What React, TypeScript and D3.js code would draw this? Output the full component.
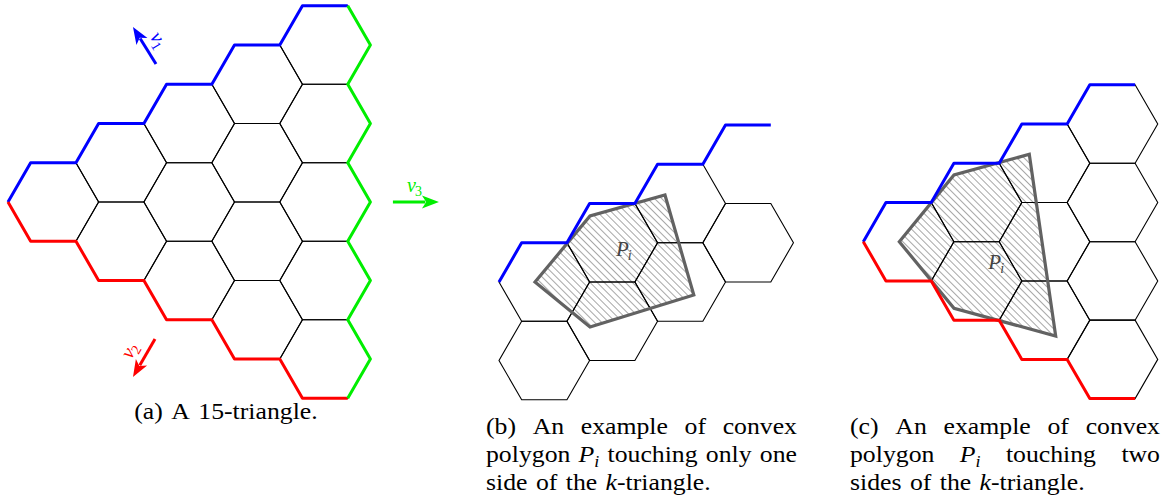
import React, { useLayoutEffect, useRef, useState } from "react";
import * as d3 from "d3";

const W = 1163;
const H = 502;
const SIDE = 45.3;
const R3 = Math.sqrt(3);

// hex cells [column, row] of each panel (row counted from the top of the column)
const cellsA: [number, number][] = [
  [0, 0], [1, 0], [1, 1], [2, 0], [2, 1], [2, 2],
  [3, 0], [3, 1], [3, 2], [3, 3], [4, 0], [4, 1], [4, 2], [4, 3], [4, 4],
];
const cellsB: [number, number][] = [[0, 0], [0, 1], [1, 0], [1, 1], [2, 0], [2, 1], [3, 1]];
const cellsC: [number, number][] = [
  [0, 0], [1, 0], [1, 1], [2, 0], [2, 1], [2, 2], [3, 0], [3, 1], [3, 2], [3, 3],
];

// boundary chains (cells whose sides make the coloured sides of the k-triangle)
const blueA: [number, number][] = [[0, 0], [1, 0], [2, 0], [3, 0], [4, 0]];
const redA: [number, number][] = [[0, 0], [1, 1], [2, 2], [3, 3], [4, 4]];
const greenA: [number, number][] = [[4, 0], [4, 1], [4, 2], [4, 3], [4, 4]];
const blueB: [number, number][] = [[0, 0], [1, 0], [2, 0], [3, 0]];
const blueC: [number, number][] = [[0, 0], [1, 0], [2, 0], [3, 0]];
const redC: [number, number][] = [[0, 0], [1, 1], [2, 2], [3, 3]];

// convex polygons P_i (lattice units, hex side = 1)
const polyB: [number, number][] = [[-0.205, 0], [1.009, -1.457], [2.664, -1.92], [3.3, 0.287], [1.009, 0.993]];
const polyC: [number, number][] = [[-0.205, 0], [1.002, -1.472], [2.664, -1.929], [3.247, 2.082], [1.002, 1.47]];
const labelB: [number, number] = [1.82, -0.71];
const labelC: [number, number] = [2.0, 0.47];

// direction arrows of panel (a)
const arrowSub = ["1", "2", "3"];
const arrowColor = ["#0000ff", "#ff0000", "#00ee00"];
const arrowFrom: [number, number][] = [[2.267, -3.046], [2.245, 3.024], [7.497, 0]];
const arrowTo: [number, number][] = [[1.759, -3.863], [1.759, 3.863], [8.513, 0]];
const arrowLabel: [number, number][] = [[2.3, -3.58], [1.7, 3.3], [7.96, -0.33]];
const arrowRot = [58, -60, 0];

type Seg = { t: string; it?: boolean; sub?: boolean };
type Word = Seg[];
const w = (t: string): Word => [{ t }];
const Pi: Word = [{ t: "P", it: true }, { t: "i", it: true, sub: true }];
const kTri: Word = [{ t: "k", it: true }, { t: "-triangle." }];

const capA: Word[][] = [[w("(a)"), w("A"), w("15-triangle.")]];
const capB: Word[][] = [
  [w("(b)"), w("An"), w("example"), w("of"), w("convex")],
  [w("polygon"), Pi, w("touching"), w("only"), w("one")],
  [w("side"), w("of"), w("the"), kTri],
];
const capC: Word[][] = [
  [w("(c)"), w("An"), w("example"), w("of"), w("convex")],
  [w("polygon"), Pi, w("touching"), w("two")],
  [w("sides"), w("of"), w("the"), kTri],
];

const SERIF = '"Liberation Serif"';
const FS = 23;
const SUBFS = 16;
const SX = 1.12;
const SPACE = 7.5;

const VERT: Record<string, number> = { R: 0, LR: 60, LL: 120, L: 180, UL: 240, UR: 300 };
function vert(c: number, j: number, k: string): [number, number] {
  const a = (VERT[k] * Math.PI) / 180;
  return [1.5 * c + Math.cos(a), R3 * (j - c / 2) + Math.sin(a)];
}
function hexPts(c: number, j: number): [number, number][] {
  return ["R", "LR", "LL", "L", "UL", "UR"].map((k) => vert(c, j, k));
}
function chain(cells: [number, number][], start: string, keys: string[]): [number, number][] {
  const pts: [number, number][] = [vert(cells[0][0], cells[0][1], start)];
  cells.forEach(([c, j]) => keys.forEach((k) => pts.push(vert(c, j, k))));
  return pts;
}

function makeScales(ox: number, oy: number) {
  const x = d3.scaleLinear().domain([0, 1]).range([ox, ox + SIDE]);
  const y = d3.scaleLinear().domain([0, 1]).range([oy, oy + SIDE]);
  return { x, y };
}

function T({ x, y, size, italic, fill, anchor, children }: any) {
  return (
    <text
      x={x}
      y={y}
      fontFamily={SERIF}
      fontSize={size}
      fontStyle={italic ? "italic" : "normal"}
      fill={fill || "#000"}
      textAnchor={anchor || "start"}
      style={{ fontFamily: SERIF, fontSize: size, fontStyle: italic ? "italic" : "normal" }}
    >
      {children}
    </text>
  );
}

function Panel({ ox, oy, cells, blue, red, green, poly, label }: any) {
  const { x, y } = makeScales(ox, oy);
  const line = d3.line<[number, number]>().x((d) => x(d[0])).y((d) => y(d[1]));
  const closed = d3.line<[number, number]>().x((d) => x(d[0])).y((d) => y(d[1])).curve(d3.curveLinearClosed);
  return (
    <g>
      {poly && <path d={closed(poly) || ""} fill="url(#hatch)" stroke="none" />}
      {cells.map(([c, j]: [number, number]) => (
        <path key={`${c}-${j}`} d={closed(hexPts(c, j)) || ""} fill="none" stroke="#000" strokeWidth={1.1} />
      ))}
      {poly && <path d={closed(poly) || ""} fill="none" stroke="#626262" strokeWidth={3.2} strokeLinejoin="miter" />}
      {poly && (
        <g>
          <T x={x(label[0]) + 2} y={y(label[1]) + 6} size={21} italic fill="#444" anchor="end">P</T>
          <T x={x(label[0]) + 1} y={y(label[1]) + 10} size={14} italic fill="#444">i</T>
        </g>
      )}
      {blue && <path d={line(chain(blue, "L", ["UL", "UR"])) || ""} fill="none" stroke="#0000ff" strokeWidth={3} strokeLinejoin="round" />}
      {red && <path d={line(chain(red, "L", ["LL", "LR"])) || ""} fill="none" stroke="#ff0000" strokeWidth={3} strokeLinejoin="round" />}
      {green && <path d={line(chain(green, "UR", ["R", "LR"])) || ""} fill="none" stroke="#00ee00" strokeWidth={3} strokeLinejoin="round" />}
    </g>
  );
}

function Arrows({ ox, oy }: { ox: number; oy: number }) {
  const { x, y } = makeScales(ox, oy);
  return (
    <g>
      {arrowSub.map((s, i) => {
        const x0 = x(arrowFrom[i][0]), y0 = y(arrowFrom[i][1]);
        const x1 = x(arrowTo[i][0]), y1 = y(arrowTo[i][1]);
        const len = Math.hypot(x1 - x0, y1 - y0);
        const dx = (x1 - x0) / len, dy = (y1 - y0) / len;
        const nx = -dy, ny = dx;
        const L = 17, Wd = 6.5;
        const head = [
          [x1, y1],
          [x1 - L * dx + Wd * nx, y1 - L * dy + Wd * ny],
          [x1 - 0.75 * L * dx, y1 - 0.75 * L * dy],
          [x1 - L * dx - Wd * nx, y1 - L * dy - Wd * ny],
        ];
        const lx = x(arrowLabel[i][0]), ly = y(arrowLabel[i][1]);
        return (
          <g key={s}>
            <line x1={x0} y1={y0} x2={x1 - 0.8 * L * dx} y2={y1 - 0.8 * L * dy} stroke={arrowColor[i]} strokeWidth={3} />
            <polygon points={head.map((p) => p.join(",")).join(" ")} fill={arrowColor[i]} />
            <g transform={`translate(${lx},${ly}) rotate(${arrowRot[i]})`}>
              <T x={2} y={5} size={20} italic fill={arrowColor[i]} anchor="end">ν</T>
              <T x={1} y={9} size={14} fill={arrowColor[i]}>{s}</T>
            </g>
          </g>
        );
      })}
    </g>
  );
}

function Caption({ lines, x0, x1, y0, lh, align }: { lines: Word[][]; x0: number; x1: number; y0: number; lh: number; align: string }) {
  const refs = useRef<Record<string, SVGTextElement | null>>({});
  const [widths, setWidths] = useState<Record<string, number>>({});
  useLayoutEffect(() => {
    const measure = () => {
      const m: Record<string, number> = {};
      for (const k in refs.current) {
        const el = refs.current[k];
        if (el) m[k] = el.getComputedTextLength();
      }
      setWidths(m);
    };
    measure();
    const f = (document as any).fonts;
    if (f && f.ready) f.ready.then(measure);
  }, []);
  const avail = (x1 - x0) / SX;
  return (
    <g transform={`translate(${x0},0) scale(${SX},1)`}>
      {lines.map((line, li) => {
        const ws = line.map((word, wi) => word.reduce((a, _, si) => a + (widths[`${li}-${wi}-${si}`] ?? 0), 0));
        const total = ws.reduce((a, b) => a + b, 0);
        const last = li === lines.length - 1;
        let gap = SPACE;
        let xx = 0;
        if (align === "justify" && !last && line.length > 1) gap = (avail - total) / (line.length - 1);
        if (align === "center") xx = (avail - total - SPACE * (line.length - 1)) / 2;
        const out: any[] = [];
        line.forEach((word, wi) => {
          let sx = xx;
          word.forEach((sg, si) => {
            const k = `${li}-${wi}-${si}`;
            const size = sg.sub ? SUBFS : FS;
            out.push(
              <text
                key={k}
                ref={(el) => { refs.current[k] = el; }}
                x={sx}
                y={y0 + li * lh + (sg.sub ? 5 : 0)}
                fontFamily={SERIF}
                fontSize={size}
                fontStyle={sg.it ? "italic" : "normal"}
                fill="#000"
                style={{ fontFamily: SERIF, fontSize: size, fontStyle: sg.it ? "italic" : "normal" }}
              >
                {sg.t}
              </text>
            );
            sx += widths[k] ?? 0;
          });
          xx += ws[wi] + gap;
        });
        return <g key={li}>{out}</g>;
      })}
    </g>
  );
}

export default function App() {
  return (
    <svg width={W} height={H} style={{ position: "absolute", left: 0, top: 0, background: "#fff" }}>
      <defs>
        <pattern id="hatch" patternUnits="userSpaceOnUse" width={5} height={5} patternTransform="rotate(45)">
          <line x1={0} y1={2.5} x2={5} y2={2.5} stroke="#909090" strokeWidth={0.8} />
        </pattern>
      </defs>
      <rect x={0} y={0} width={W} height={H} fill="#fff" />
      <Panel ox={53.3} oy={202} cells={cellsA} blue={blueA} red={redA} green={greenA} />
      <Arrows ox={53.3} oy={202} />
      <Panel ox={544.3} oy={282} cells={cellsB} blue={blueB} poly={polyB} label={labelB} />
      <Panel ox={908.6} oy={241.7} cells={cellsC} blue={blueC} red={redC} poly={polyC} label={labelC} />
      <Caption lines={capA} x0={116} x1={336} y0={419} lh={28} align="center" />
      <Caption lines={capB} x0={486} x1={797} y0={434} lh={28} align="justify" />
      <Caption lines={capC} x0={850} x1={1160} y0={434} lh={28} align="justify" />
    </svg>
  );
}
